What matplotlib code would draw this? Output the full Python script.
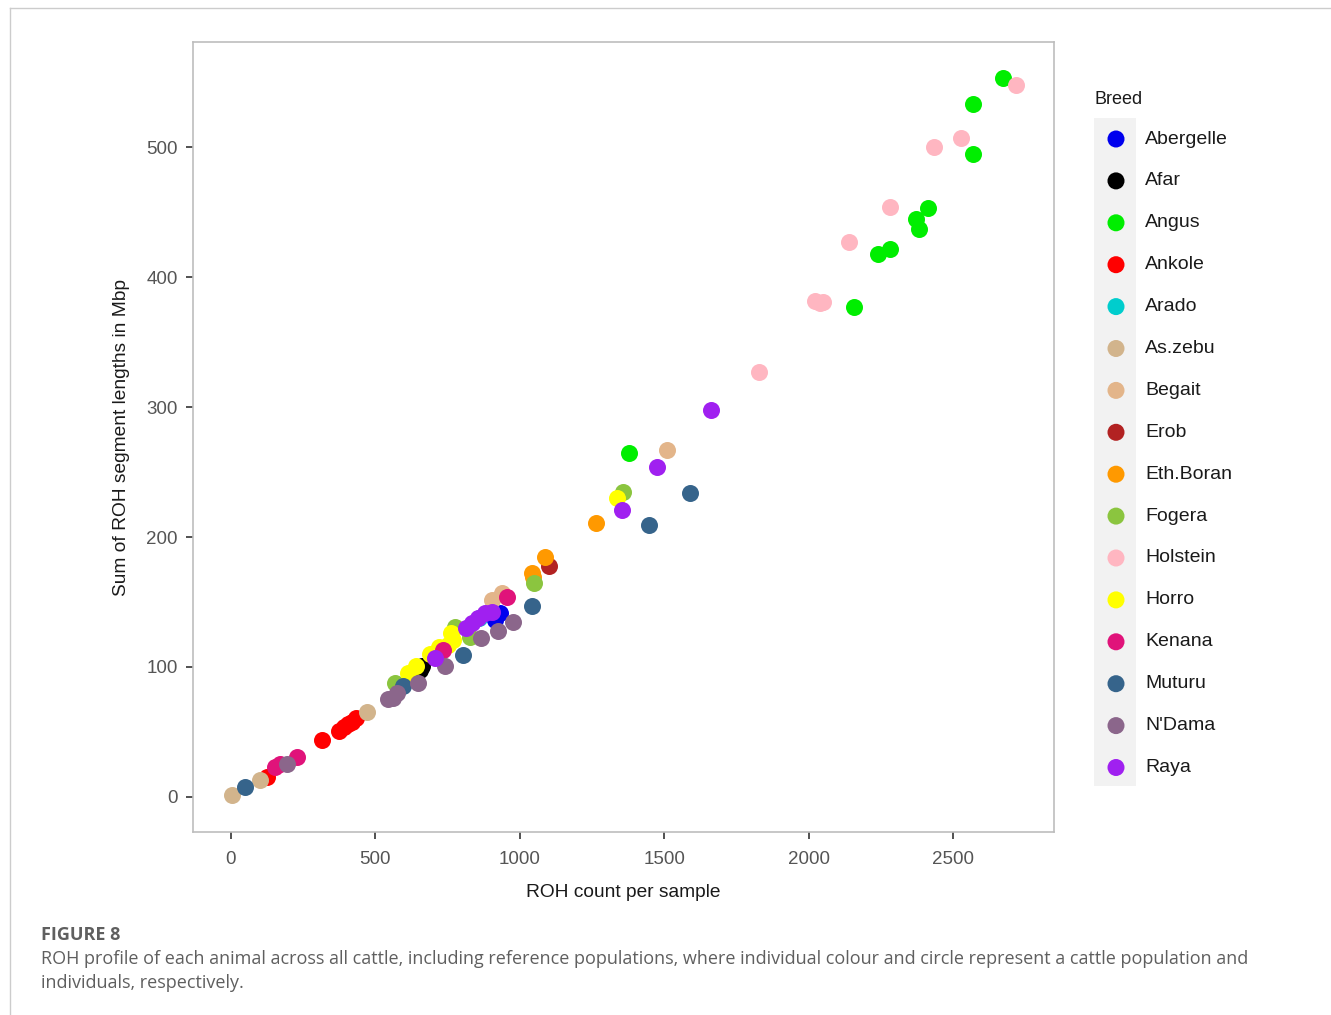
import matplotlib
matplotlib.use('Agg')
import matplotlib.pyplot as plt
from matplotlib.patches import Rectangle

plt.rcParams['font.family'] = ['Liberation Sans', 'DejaVu Sans']

# breeds in legend order, with ggplot-like colours
breeds = ['Abergelle', 'Afar', 'Angus', 'Ankole', 'Arado', 'As.zebu', 'Begait', 'Erob',
          'Eth.Boran', 'Fogera', 'Holstein', 'Horro', 'Kenana', 'Muturu', "N'Dama", 'Raya']
colors = ['#0000EE', '#000000', '#00EE00', '#FF0000', '#00CDCD', '#D2B48C', '#E3B58A', '#B22222',
          '#FF9900', '#8BC53F', '#FFB6C1', '#FFFF00', '#E0137A', '#36648B', '#8B668B', '#A020F0']

# ROH count per sample (x) and sum of ROH lengths in Mbp (y)
abergelle_x = [931, 913]
abergelle_y = [141.5, 136]
afar_x = [654, 662]
afar_y = [98, 101]
angus_x = [2671, 2567, 2567, 2412, 2370, 2381, 2280, 2239, 2156, 1377]
angus_y = [553, 533, 495, 453, 445, 437, 422, 418, 377, 265]
ankole_x = [124, 315, 375, 390, 405, 420, 432]
ankole_y = [15.5, 44, 51, 54, 56, 58, 61]
arado_x = [858]
arado_y = [138]
aszebu_x = [3, 100, 470]
aszebu_y = [1.5, 13, 65]
begait_x = [1509, 937, 902]
begait_y = [267, 157, 151.5]
erob_x = [1100]
erob_y = [178]
ethboran_x = [1263, 1087, 1042, 1045]
ethboran_y = [211, 185, 172, 169]
fogera_x = [1356, 1048, 827, 775, 567]
fogera_y = [235, 165, 123, 131, 88]
holstein_x = [2716, 2526, 2433, 2280, 2138, 2021, 2038, 2048, 1827]
holstein_y = [548, 507, 500, 454, 427, 382, 380, 381, 327]
horro_x = [1335, 612, 640, 690, 720, 751, 768, 760]
horro_y = [230, 95, 101, 110, 115, 117, 121, 126]
kenana_x = [954, 733, 152, 228, 170]
kenana_y = [154, 113, 23, 31, 25]
muturu_x = [1588, 1446, 1042, 803, 595, 48]
muturu_y = [234, 209, 147, 109, 85, 8]
ndama_x = [976, 924, 867, 740, 647, 574, 560, 543, 193]
ndama_y = [135, 128, 122, 101, 88, 80, 76, 75, 25]
raya_x = [1661, 1474, 1352, 902, 879, 855, 834, 815, 706]
raya_y = [298, 254, 221, 142.5, 141.5, 138, 134, 130, 107]

xs = [abergelle_x, afar_x, angus_x, ankole_x, arado_x, aszebu_x, begait_x, erob_x,
      ethboran_x, fogera_x, holstein_x, horro_x, kenana_x, muturu_x, ndama_x, raya_x]
ys = [abergelle_y, afar_y, angus_y, ankole_y, arado_y, aszebu_y, begait_y, erob_y,
      ethboran_y, fogera_y, holstein_y, horro_y, kenana_y, muturu_y, ndama_y, raya_y]

W, H = 1331, 1015
fig = plt.figure(figsize=(W / 100, H / 100), dpi=100)

# main panel
ax = fig.add_axes([193 / W, 1 - 832 / H, (1054 - 193) / W, (832 - 42) / H])
for name, c, x, y in zip(breeds, colors, xs, ys):
    ax.scatter(x, y, s=150, color=c, linewidths=0, zorder=3)
ax.set_xlim(-131, 2848)
ax.set_ylim(-27, 581)
ax.set_xticks([0, 500, 1000, 1500, 2000, 2500])
ax.set_yticks([0, 100, 200, 300, 400, 500])
for s in ax.spines.values():
    s.set_color('#BDBDBD')
    s.set_linewidth(1.2)
ax.tick_params(colors='#333333', labelcolor='#555555', labelsize=13.5, length=5, width=1.2)
ax.tick_params(axis='x', pad=9)
ax.tick_params(axis='y', pad=6)
ax.set_xlabel('ROH count per sample', fontsize=13.8, color='#1a1a1a', labelpad=11)
ax.set_ylabel('Sum of ROH segment lengths in Mbp', fontsize=13.8, color='#1a1a1a', labelpad=12)

# overlay in pixel coordinates for the frame, legend and caption
ov = fig.add_axes([0, 0, 1, 1], zorder=5)
ov.set_xlim(0, W)
ov.set_ylim(H, 0)
ov.axis('off')
ov.patch.set_alpha(0)
ov.plot([10, W], [8, 8], color='#CCCCCC', lw=1)
ov.plot([10, 10], [8, H], color='#CCCCCC', lw=1)

ov.text(1094, 99, 'Breed', fontsize=13, color='#1a1a1a', va='center', ha='left')
ov.add_patch(Rectangle((1094, 118), 42, 668, color='#F2F2F2', lw=0))
row_y = [139 + i * 41.9 for i in range(len(breeds))]
ov.scatter([1116] * len(breeds), row_y, s=150, c=colors, linewidths=0, zorder=3)
for name, yy in zip(breeds, row_y):
    ov.text(1145, yy, name, fontsize=14, color='#1a1a1a', va='center', ha='left')

ov.text(41, 935, 'FIGURE 8', fontsize=13, fontweight='bold', color='#5f5f5f',
        va='center', ha='left', family='Open Sans')
ov.text(41, 959, 'ROH profile of each animal across all cattle, including reference populations, '
        'where individual colour and circle represent a cattle population and',
        fontsize=13, color='#5f5f5f', va='center', ha='left', family='Open Sans')
ov.text(41, 983, 'individuals, respectively.', fontsize=13, color='#5f5f5f',
        va='center', ha='left', family='Open Sans')

fig.savefig('out.png', dpi=100)
